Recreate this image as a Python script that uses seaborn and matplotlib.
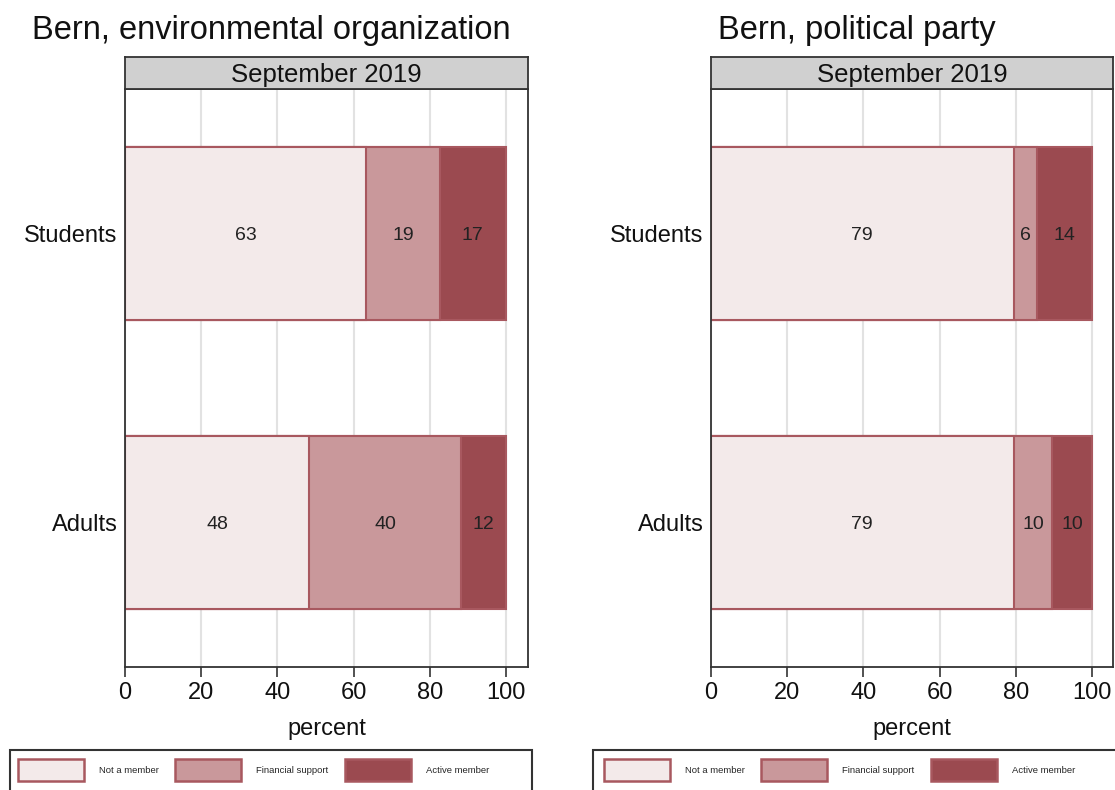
import numpy as np
import pandas as pd
import matplotlib
matplotlib.use("Agg")
import matplotlib.pyplot as plt
import seaborn as sns
from matplotlib.patches import Patch, Rectangle

# data
groups = ["Students", "Adults"]
categories = ["Not a member", "Financial support", "Active member"]
env_not = [63.4, 48.3]
env_fin = [19.2, 39.9]
env_act = [17.4, 11.8]
party_not = [79.4, 79.4]
party_fin = [6.2, 10.2]
party_act = [14.4, 10.4]
titles = ["Bern, environmental organization", "Bern, political party"]
wave = "September 2019"
xticks = [0, 20, 40, 60, 80, 100]

colors = ["#F3EAEA", "#C9989B", "#9B4A50"]
edge = "#A8585F"
ink = "#111111"

sns.set_theme(style="white")
plt.rcParams["font.family"] = ["Liberation Sans", "DejaVu Sans"]

W, H = 1115, 790
fig = plt.figure(figsize=(W / 100, H / 100), dpi=100)


def px(x0, y0, x1, y1):
    # pixel box (top-left origin) -> figure fraction rect
    return [x0 / W, 1 - y1 / H, (x1 - x0) / W, (y1 - y0) / H]


def draw_panel(x0, x1, xmax, parts, title, title_x):
    ax = fig.add_axes(px(x0, 89, x1, 667))
    df = pd.DataFrame({"group": groups})
    cum = np.zeros(len(groups))
    starts = []
    for c, p in zip(categories, parts):
        starts.append(cum.copy())
        cum = cum + np.array(p)
        df[c] = cum
    # stacked: draw the cumulative totals back to front
    for c, col in reversed(list(zip(categories, colors))):
        sns.barplot(data=df, y="group", x=c, orient="h", color=col,
                    saturation=1, edgecolor=edge, linewidth=1.5,
                    width=0.6, errorbar=None, ax=ax, zorder=2)
    for s, p in zip(starts, parts):
        for i, v in enumerate(p):
            ax.text(s[i] + v / 2, i, f"{v:.0f}", ha="center",
                    va="center_baseline", fontsize=14, color="#222222",
                    zorder=3)

    ax.set_xlim(0, xmax)
    ax.set_ylim(1.5, -0.5)
    ax.set_xticks(xticks)
    ax.set_xlabel("percent", fontsize=17, labelpad=10, color=ink)
    ax.set_ylabel("")
    ax.xaxis.grid(True, color="#E2E2E2", lw=1.5, zorder=0)
    ax.set_axisbelow(True)
    ax.tick_params(axis="x", length=7, width=1.2, color="#333333",
                   labelsize=17, pad=4, direction="out", bottom=True,
                   labelcolor=ink)
    ax.tick_params(axis="y", length=0, labelsize=17, pad=5.5, labelcolor=ink)
    for sp in ax.spines.values():
        sp.set_color("#333333")
        sp.set_linewidth(1.3)

    # strip header
    sax = fig.add_axes(px(x0, 57, x1, 89))
    sax.set_facecolor("#D0D0D0")
    sax.set_xticks([])
    sax.set_yticks([])
    for sp in sax.spines.values():
        sp.set_color("#333333")
        sp.set_linewidth(1.3)
    sax.text(0.5, 0.45, wave, ha="center", va="center", fontsize=18.5,
             transform=sax.transAxes, color=ink)

    fig.text(title_x / W, 1 - 39 / H, title, fontsize=23.5, va="baseline",
             ha="left", color=ink)
    return ax


draw_panel(125, 528, 105.8, [env_not, env_fin, env_act], titles[0], 32)
draw_panel(711, 1113, 105.5, [party_not, party_fin, party_act], titles[1], 718)

handles = [Patch(facecolor=c, edgecolor=edge, linewidth=1.8) for c in colors]
for fx0, fx1, hx in [(10, 532, 18), (593, 1140, 604)]:
    fig.patches.append(Rectangle((fx0 / W, 1 - 800 / H), (fx1 - fx0) / W,
                                 50 / H, transform=fig.transFigure,
                                 fill=False, edgecolor="#333333", lw=1.5))
    fig.legend(handles, categories, loc="upper left",
               bbox_to_anchor=(hx / W, 1 - 759 / H),
               bbox_transform=fig.transFigure, ncol=3, frameon=False,
               fontsize=6.8, handlelength=7, handleheight=3.2,
               handletextpad=1.6, columnspacing=1.7, borderpad=0,
               borderaxespad=0)

fig.savefig("out.png", dpi=100)
